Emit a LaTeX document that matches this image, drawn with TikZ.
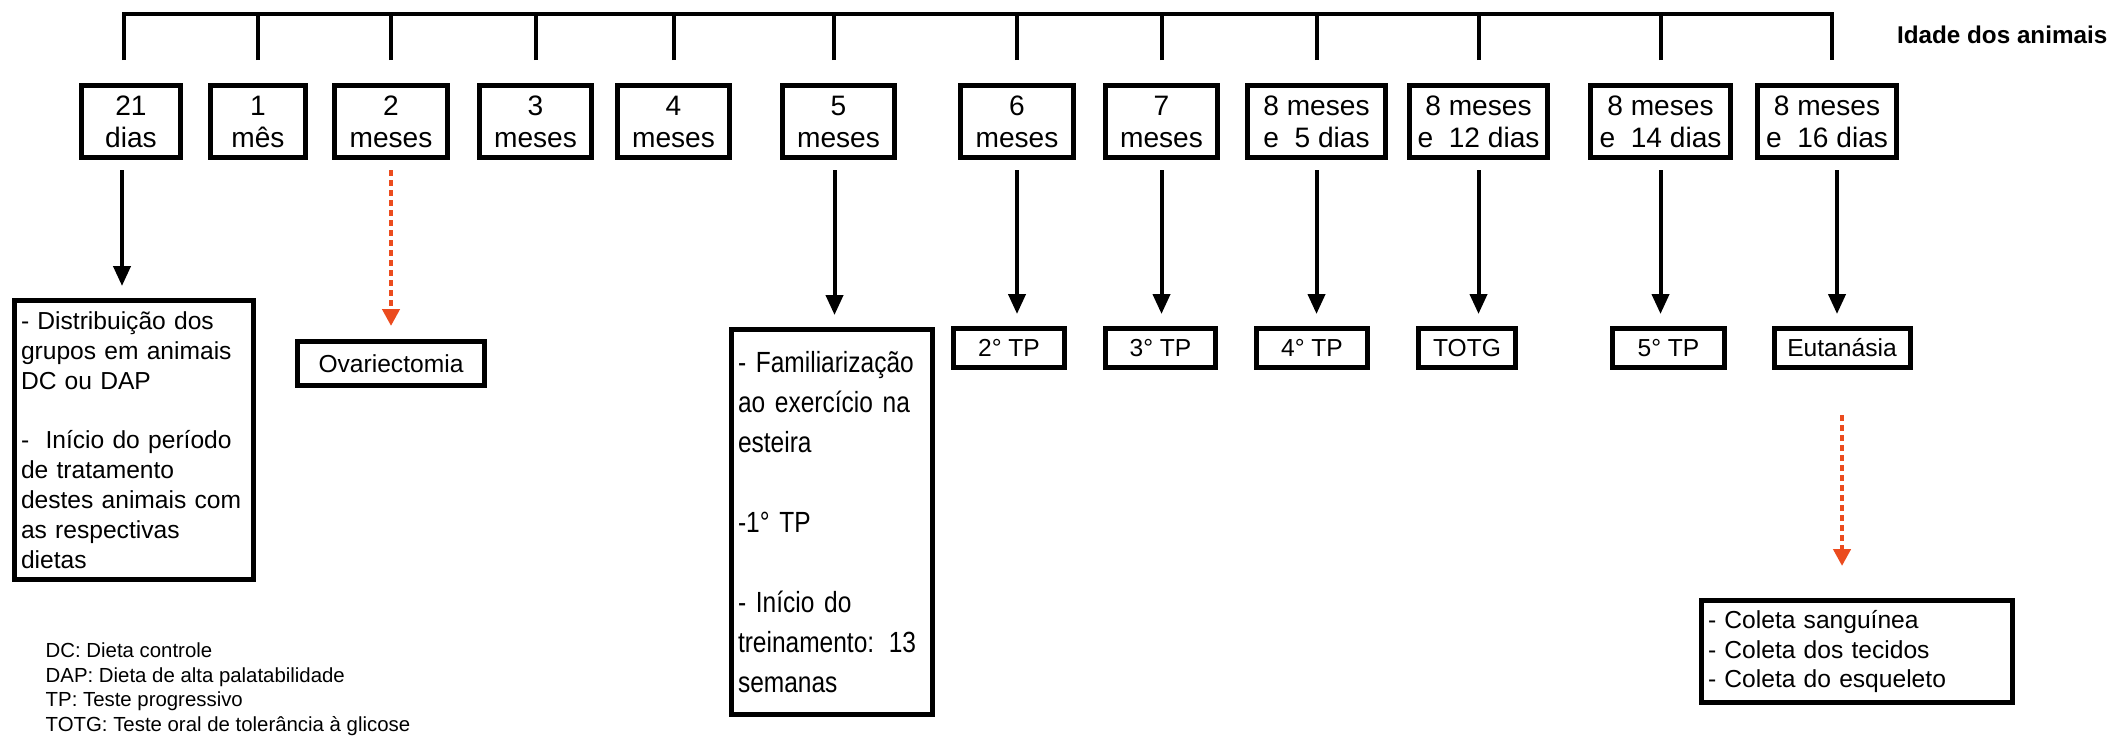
\documentclass[tikz,border=0pt]{standalone}
\usepackage{fontspec}
\setmainfont{Liberation Sans}
\newfontfamily\narrowsans{Liberation Sans}[FakeStretch=0.84]
\usetikzlibrary{arrows.meta}

\definecolor{dotred}{RGB}{235,75,30}

\begin{document}
\begin{tikzpicture}[
  age/.style={draw, line width=0.05cm, minimum height=0.72cm, inner sep=0pt, align=center, font=\fontsize{8}{9.1}\selectfont},
  event/.style={draw, line width=0.05cm, minimum height=0.39cm, inner sep=0pt, font=\fontsize{7}{8.5}\selectfont},
  textbox/.style={event, inner xsep=0.065cm, align=left},
  bar/.style={line width=0.04cm},
  arr/.style={line width=0.04cm, -{Triangle[width=0.17cm,length=0.2cm]}, shorten <=0.1cm, shorten >=0.12cm},
  dotarr/.style={dotred, line width=0.045cm, dash pattern=on 0.06cm off 0.04cm, -{Triangle[width=0.17cm,length=0.17cm]}}]
\useasboundingbox (0,0) rectangle (21.11,-7.38);

\node[age, minimum width=0.99cm] (d21) at (1.31,-1.215) {21\\dias};
\node[age, minimum width=0.95cm] (m1) at (2.58,-1.215) {1\\mês};
\node[age, minimum width=1.13cm] (m2) at (3.91,-1.215) {2\\meses};
\node[age, minimum width=1.12cm] (m3) at (5.355,-1.215) {3\\meses};
\node[age, minimum width=1.12cm] (m4) at (6.735,-1.215) {4\\meses};
\node[age, minimum width=1.12cm] (m5) at (8.385,-1.215) {5\\meses};
\node[age, minimum width=1.13cm] (m6) at (10.17,-1.215) {6\\meses};
\node[age, minimum width=1.12cm] (m7) at (11.615,-1.215) {7\\meses};
\node[age, minimum width=1.38cm] (m8a) at (13.165,-1.215) {8 meses\\e~ 5 dias};
\node[age, minimum width=1.38cm] (m8b) at (14.785,-1.215) {8 meses\\e~ 12 dias};
\node[age, minimum width=1.40cm] (m8c) at (16.605,-1.215) {8 meses\\e~ 14 dias};
\node[age, minimum width=1.39cm] (m8d) at (18.27,-1.215) {8 meses\\e~ 16 dias};

\coordinate (top) at (0,-0.14);
\draw[bar] ([xshift=-0.07cm,yshift=0.23cm]d21.north) |- ([xshift=0.05cm]m8d.north |- top) -- ([xshift=0.05cm,yshift=0.23cm]m8d.north);
\foreach \n in {m1,m2,m3,m4,m6,m7,m8a,m8b,m8c}
  \draw[bar] ([yshift=0.23cm]\n.north) -- (\n.north |- top);
\draw[bar] ([xshift=-0.045cm,yshift=0.23cm]m5.north) -- ([xshift=-0.045cm]m5.north |- top);

\node[anchor=base east, inner sep=0pt, font=\bfseries\fontsize{6.9}{8}\selectfont] (idade) at (21.08,-0.43) {Idade dos animais};

\node[textbox, text width=2.26cm, minimum height=2.79cm] (distrib) at (1.34,-4.40)
  {- Distribuição dos\\grupos em animais\\DC ou DAP\\[\baselineskip]-~ Início do período\\de tratamento\\destes animais com\\as respectivas\\dietas};
\node[event, minimum width=1.87cm, minimum height=0.44cm] (ovar) at (3.91,-3.635) {Ovariectomia};
\node[textbox, text width=1.88cm, minimum height=3.85cm, font=\narrowsans\fontsize{8.3}{11.4}\selectfont] (famil) at (8.32,-5.22)
  {- Familiarização\\ao exercício na\\esteira\\[\baselineskip]-1° TP\\[\baselineskip]- Início do\\treinamento: 13\\semanas};
\node[event, minimum width=1.11cm] (tp2) at (10.09,-3.48) {2° TP};
\node[event, minimum width=1.10cm] (tp3) at (11.605,-3.48) {3° TP};
\node[event, minimum width=1.11cm] (tp4) at (13.12,-3.48) {4° TP};
\node[event, minimum width=0.97cm] (totg) at (14.67,-3.48) {TOTG};
\node[event, minimum width=1.12cm] (tp5) at (16.685,-3.48) {5° TP};
\node[event, minimum width=1.36cm] (eutan) at (18.42,-3.48) {Eutanásia};
\node[textbox, text width=2.98cm, minimum height=1.02cm] (coleta) at (18.57,-6.515)
  {- Coleta sanguínea\\- Coleta dos tecidos\\- Coleta do esqueleto};

\draw[arr] ([xshift=-0.09cm]d21.south) -- ([xshift=-0.09cm]d21.south |- distrib.north);
\draw[dotarr, shorten <=0.1cm, shorten >=0.13cm] (m2.south) -- (m2.south |- ovar.north);
\draw[arr] ([xshift=-0.04cm]m5.south) -- ([xshift=-0.04cm]m5.south |- famil.north);
\draw[arr] (m6.south) -- (m6.south |- tp2.north);
\draw[arr] (m7.south) -- (m7.south |- tp3.north);
\draw[arr] (m8a.south) -- (m8a.south |- tp4.north);
\draw[arr] (m8b.south) -- (m8b.south |- totg.north);
\draw[arr] (m8c.south) -- (m8c.south |- tp5.north);
\draw[arr] ([xshift=0.1cm]m8d.south) -- ([xshift=0.1cm]m8d.south |- eutan.north);
\draw[dotarr, shorten <=0.45cm, shorten >=0.32cm] (eutan.south) -- (eutan.south |- coleta.north);

\node[anchor=north west, inner sep=0pt, align=left, font=\fontsize{5.8}{7}\selectfont] (legend) at (0.45,-6.42)
  {DC: Dieta controle\\DAP: Dieta de alta palatabilidade\\TP: Teste progressivo\\TOTG: Teste oral de tolerância à glicose};
\end{tikzpicture}
\end{document}
